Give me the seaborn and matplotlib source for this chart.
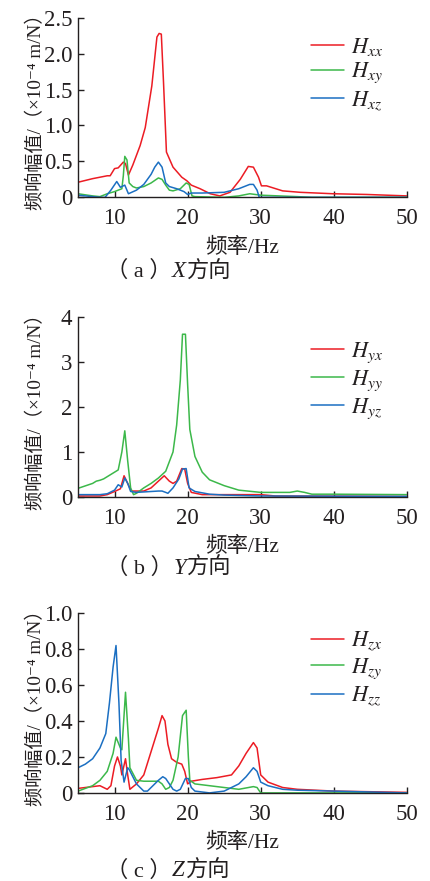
import matplotlib
matplotlib.use("Agg")
import matplotlib.pyplot as plt
import seaborn as sns
import numpy as np
import pandas as pd

# -----------------------------
# data
# -----------------------------
# (a) X direction
xx_f = [5, 7, 9, 9.4, 10, 10.5, 11.2, 11.5, 11.9, 12.5, 13.5, 14.2, 15.1, 15.8, 16.1, 16.4, 16.7, 17.1,
        18.0, 19.2, 19.9, 20.5, 21.7, 23.1, 24.4, 25.8, 27.2, 28.3, 29.0, 29.7, 30.1, 30.8, 33, 35.4,
        39.9, 44.5, 50]
xx_v = [0.21, 0.26, 0.30, 0.30, 0.40, 0.41, 0.49, 0.47, 0.31, 0.45, 0.72, 0.97, 1.55, 2.23, 2.28, 2.27,
        1.60, 0.63, 0.42, 0.28, 0.23, 0.17, 0.12, 0.05, 0.02, 0.07, 0.25, 0.43, 0.42, 0.28, 0.16, 0.16,
        0.09, 0.07, 0.05, 0.04, 0.02]
xy_f = [5, 7, 8, 9, 10, 11, 11.2, 11.4, 11.7, 12.0, 12.5, 13, 14, 15, 16, 16.5, 17, 17.5, 18, 19, 19.8,
        20.2, 20.6, 21, 25, 27, 28.5, 30, 35, 37, 50]
xy_v = [0.05, 0.02, 0.01, 0.05, 0.08, 0.12, 0.30, 0.57, 0.52, 0.20, 0.15, 0.13, 0.15, 0.20, 0.27, 0.25,
        0.17, 0.10, 0.09, 0.12, 0.20, 0.18, 0.02, 0.01, 0.0, 0.02, 0.05, 0.03, 0.01, 0.0, 0.0]
xz_f = [5, 8, 8.7, 9.5, 10.3, 10.8, 11.4, 11.9, 13, 14, 15, 15.5, 16.0, 16.5, 17, 17.5, 18.5, 19.5,
        20.0, 20.5, 22, 25, 27, 28.5, 29.0, 29.5, 29.8, 35, 50]
xz_v = [0.03, 0.0, 0.0, 0.10, 0.22, 0.14, 0.17, 0.05, 0.10, 0.18, 0.32, 0.42, 0.49, 0.42, 0.20, 0.15,
        0.12, 0.08, 0.04, 0.06, 0.06, 0.07, 0.12, 0.18, 0.18, 0.10, 0.0, 0.0, 0.0]

# (b) Y direction
yx_f = [5, 8, 9, 10, 10.8, 11.3, 11.8, 12.3, 14, 15, 16, 16.8, 17.5, 18, 18.5, 19.2, 19.6, 20, 20.5,
        22, 30, 32, 50]
yx_v = [0.02, 0.02, 0.05, 0.12, 0.18, 0.47, 0.30, 0.13, 0.13, 0.20, 0.35, 0.47, 0.35, 0.30, 0.35,
        0.63, 0.62, 0.30, 0.10, 0.05, 0.05, 0.02, 0.01]
yy_f = [5, 7, 7.5, 8, 8.5, 9, 10, 10.5, 11, 11.4, 11.8, 12.2, 12.6, 13, 14, 15, 16, 17, 18, 18.5, 19.0,
        19.3, 19.7, 20.0, 20.3, 21, 22, 23, 25, 27, 30, 33, 34, 35, 36, 37, 40, 50]
yy_v = [0.19, 0.30, 0.35, 0.37, 0.40, 0.45, 0.55, 0.60, 1.00, 1.47, 0.80, 0.20, 0.05, 0.08, 0.20, 0.30,
        0.42, 0.57, 1.00, 1.60, 2.60, 3.62, 3.62, 2.50, 1.50, 0.90, 0.55, 0.38, 0.25, 0.15, 0.10, 0.10,
        0.10, 0.13, 0.10, 0.06, 0.06, 0.05]
yz_f = [5, 8, 9, 10, 10.5, 11, 11.4, 11.8, 12.2, 13, 15, 16, 16.5, 17, 17.3, 18, 18.8, 19.3, 19.8,
        20.2, 21, 23, 25, 30, 50]
yz_v = [0.05, 0.05, 0.07, 0.15, 0.27, 0.22, 0.42, 0.30, 0.12, 0.10, 0.12, 0.13, 0.13, 0.10, 0.08,
        0.20, 0.40, 0.62, 0.63, 0.20, 0.12, 0.06, 0.04, 0.02, 0.01]

# (c) Z direction
zx_f = [5, 7, 8, 8.5, 9, 9.5, 10, 10.4, 10.8, 11.0, 11.5, 11.8, 12.1, 13, 14, 15, 16, 16.5, 16.9, 17.3,
        17.8, 18.5, 19.2, 19.6, 20.0, 20.5, 22, 24, 26, 27, 28, 29, 29.5, 30, 31, 33, 35, 40, 50]
zx_v = [0.025, 0.035, 0.04, 0.03, 0.02, 0.04, 0.15, 0.20, 0.15, 0.10, 0.19, 0.10, 0.02, 0.05, 0.10,
        0.23, 0.36, 0.43, 0.40, 0.27, 0.19, 0.17, 0.16, 0.12, 0.05, 0.065, 0.075, 0.085, 0.10, 0.15,
        0.22, 0.28, 0.25, 0.10, 0.06, 0.03, 0.02, 0.01, 0.003]
zy_f = [5, 7, 8, 9, 9.8, 10.2, 10.8, 11.0, 11.5, 11.9, 12.1, 13, 14, 15, 16, 16.5, 17, 17.5, 18, 18.7,
        19.3, 19.8, 20.1, 20.3, 21, 23, 25, 27, 29, 29.5, 30, 50]
zy_v = [0.01, 0.04, 0.07, 0.12, 0.22, 0.31, 0.25, 0.24, 0.56, 0.30, 0.14, 0.07, 0.065, 0.065, 0.065,
        0.05, 0.02, 0.03, 0.07, 0.20, 0.43, 0.46, 0.20, 0.07, 0.05, 0.04, 0.03, 0.02, 0.035, 0.03, 0.0,
        0.0]
zz_f = [5, 6, 7, 8, 8.8, 9.3, 9.8, 10.2, 10.6, 10.9, 11.3, 11.8, 12, 13, 14, 14.5, 15, 16, 16.6, 17, 18,
        18.5, 19, 19.7, 20.1, 20.5, 21, 23, 25, 26, 27, 28, 29, 29.5, 30, 31, 33, 35, 40, 50]
zz_v = [0.14, 0.16, 0.19, 0.25, 0.33, 0.50, 0.70, 0.82, 0.50, 0.18, 0.06, 0.14, 0.13, 0.05, 0.01, 0.01,
        0.03, 0.07, 0.09, 0.08, 0.02, 0.01, 0.02, 0.08, 0.08, 0.03, 0.01, 0.0, 0.01, 0.03, 0.05, 0.09,
        0.14, 0.12, 0.06, 0.04, 0.02, 0.015, 0.01, 0.0]

panels = [
    ("X", "a", [("xx", xx_f, xx_v), ("xy", xy_f, xy_v), ("xz", xz_f, xz_v)],
     [0, 0.5, 1.0, 1.5, 2.0, 2.5], ["0", "0.5", "1.0", "1.5", "2.0", "2.5"], 0.90, -0.445),
    ("Y", "b", [("yx", yx_f, yx_v), ("yy", yy_f, yy_v), ("yz", yz_f, yz_v)],
     [0, 1, 2, 3, 4], ["0", "1", "2", "3", "4"], 0.87, -0.43),
    ("Z", "c", [("zx", zx_f, zx_v), ("zy", zy_f, zy_v), ("zz", zz_f, zz_v)],
     [0, 0.2, 0.4, 0.6, 0.8, 1.0], ["0", "0.2", "0.4", "0.6", "0.8", "1.0"], 0.91, -0.465),
]
colors = ["#ec1c24", "#3cb84a", "#1b6fc2"]

# -----------------------------
# plot
# -----------------------------
sns.set_style("ticks")
plt.rcParams["font.family"] = ["Liberation Serif", "Noto Sans CJK SC", "DejaVu Sans"]
plt.rcParams["mathtext.fontset"] = "stix"
plt.rcParams["axes.unicode_minus"] = False

fig = plt.figure(figsize=(4.31, 8.81), dpi=100)
bottoms = [0.776, 0.436, 0.100]
ink = "#231f20"
captions = []

for (axis, tag, series, yt, ytl, leg_y, cap_y), b in zip(panels, bottoms):
    ax = fig.add_axes([0.181, b, 0.763, 0.204])
    rows = []
    for name, f, v in series:
        for fi, vi in zip(f, v):
            rows.append({"f": fi, "v": vi, "s": r"$H_{%s}$" % name})
    df = pd.DataFrame(rows)
    sns.lineplot(data=df, x="f", y="v", hue="s", palette=colors, estimator=None,
                 linewidth=1.1, ax=ax, sort=False)

    ax.set_xlim(5, 50)
    ax.set_ylim(0, yt[-1])
    ax.set_xticks([10, 20, 30, 40, 50])
    ax.set_yticks(yt)
    ax.set_yticklabels(ytl)
    ax.tick_params(direction="in", length=4, width=1, colors=ink, labelsize=16.5)
    ax.tick_params(axis="x", pad=8)
    ax.tick_params(axis="y", pad=4)
    for sp in ["top", "right"]:
        ax.spines[sp].set_visible(False)
    for sp in ["left", "bottom"]:
        ax.spines[sp].set_color(ink)
        ax.spines[sp].set_linewidth(1.0)

    ax.set_xlabel("频率/Hz", fontsize=15.5, color=ink, labelpad=6)
    ax.set_ylabel("频响幅值/（×10⁻⁴ m/N）", fontsize=13.8, color=ink)
    ax.yaxis.set_label_coords(-0.10, 0.5)

    # caption: (a) + italic axis letter + 方向
    t1 = ax.text(0.085, cap_y, "（ %s ）" % tag, transform=ax.transAxes,
                 ha="left", va="baseline", fontsize=16, color=ink)
    t2 = ax.text(0, cap_y, axis, transform=ax.transAxes, ha="left", va="baseline",
                 fontsize=16.5, color=ink, fontstyle="italic")
    t3 = ax.text(0, cap_y, "方向", transform=ax.transAxes, ha="left", va="baseline",
                 fontsize=16, color=ink)
    captions.append((ax, t1, t2, t3))

    leg = ax.legend(loc="upper left", bbox_to_anchor=(0.71, leg_y), frameon=False, fontsize=16,
                    handlelength=1.45, handletextpad=0.35, labelspacing=0.15, borderpad=0,
                    borderaxespad=0)
    for t in leg.get_texts():
        t.set_color(ink)

# chain caption pieces after measuring
fig.canvas.draw()
r = fig.canvas.get_renderer()
for ax, t1, t2, t3 in captions:
    inv = ax.transAxes.inverted()
    e1 = t1.get_window_extent(r)
    t2.set_x(inv.transform((e1.x1 + 0.5, 0))[0])
    e2 = t2.get_window_extent(r)
    t3.set_x(inv.transform((e2.x1 + 1, 0))[0])

fig.savefig("out.png", dpi=100)
